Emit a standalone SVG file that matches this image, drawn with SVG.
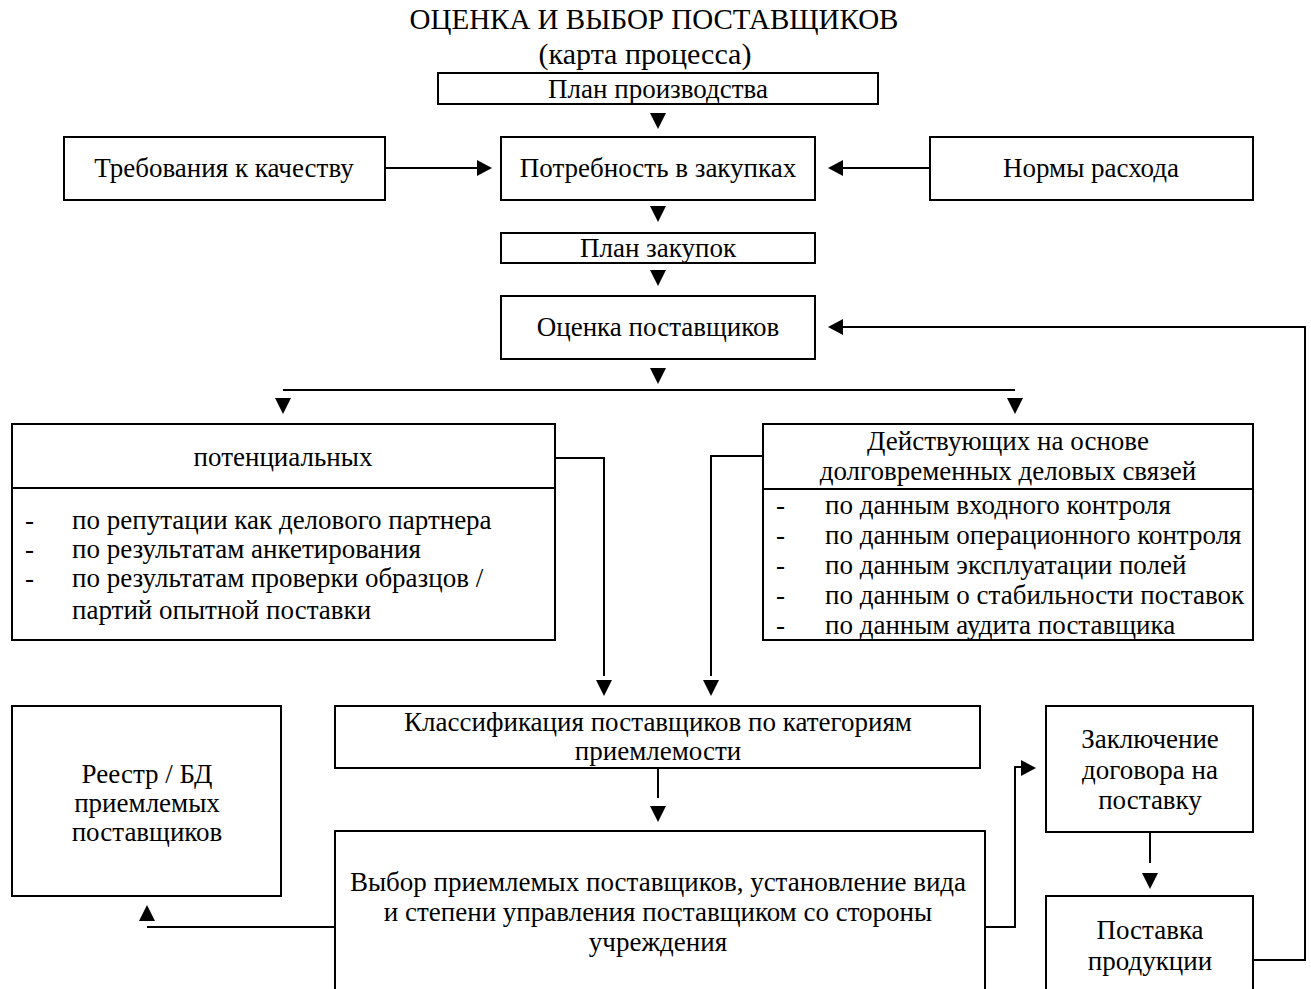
<svg xmlns="http://www.w3.org/2000/svg" xmlns:xlink="http://www.w3.org/1999/xlink" width="1311" height="989" viewBox="0 0 1311 989">
<style>
  .box { fill: #fff; stroke: #000; stroke-width: 2; }
  .ln { fill: none; stroke: #000; stroke-width: 2; }
  text { font-family: "Liberation Serif", "Times New Roman", serif; font-size: 27px; fill: #000; }
  .c { text-anchor: middle; }
  .title { font-size: 29px; }
  .sub { font-size: 30px; }
  .tri { fill: #000; }
</style>
<defs>
  <path id="td" class="tri" d="M-8,0 L8,0 L0,16 Z"/>
  <path id="tu" class="tri" d="M0,0 L-8,16 L8,16 Z"/>
  <path id="tl" class="tri" d="M0,0 L15,-8 L15,8 Z"/>
  <path id="tr" class="tri" d="M0,0 L-15,-8 L-15,8 Z"/>
</defs>
<rect width="1311" height="989" fill="#fff"/>

<g id="title">
  <text class="c title" x="654" y="29">ОЦЕНКА И ВЫБОР ПОСТАВЩИКОВ</text>
  <text class="c sub" x="645" y="64">(карта процесса)</text>
</g>

<g id="plan-proizv">
  <rect class="box" x="438" y="73" width="440" height="31"/>
  <text class="c" x="658" y="98">План производства</text>
</g>
<g id="trebovaniya">
  <rect class="box" x="64" y="137" width="321" height="63"/>
  <text class="c" x="224" y="177">Требования к качеству</text>
</g>
<g id="potrebnost">
  <rect class="box" x="501" y="137" width="314" height="63"/>
  <text class="c" x="658" y="177">Потребность в закупках</text>
</g>
<g id="normy">
  <rect class="box" x="930" y="137" width="323" height="63"/>
  <text class="c" x="1091" y="177">Нормы расхода</text>
</g>
<g id="plan-zakupok">
  <rect class="box" x="501" y="233" width="314" height="30"/>
  <text class="c" x="658" y="257">План закупок</text>
</g>
<g id="ocenka">
  <rect class="box" x="501" y="296" width="314" height="63"/>
  <text class="c" x="658" y="336">Оценка поставщиков</text>
</g>
<g id="potencialnyh">
  <rect class="box" x="12" y="424" width="543" height="216"/>
  <line class="ln" x1="12" y1="488" x2="555" y2="488"/>
  <text class="c" x="283" y="466">потенциальных</text>
  <text x="25" y="529">-</text><text x="72" y="529">по репутации как делового партнера</text>
  <text x="25" y="558">-</text><text x="72" y="558">по результатам анкетирования</text>
  <text x="25" y="587">-</text><text x="72" y="587">по результатам проверки образцов /</text>
  <text x="72" y="619">партий опытной поставки</text>
</g>
<g id="deystvuyushchih">
  <rect class="box" x="763" y="424" width="490" height="216"/>
  <line class="ln" x1="763" y1="489" x2="1253" y2="489"/>
  <text class="c" x="1008" y="450">Действующих на основе</text>
  <text class="c" x="1008" y="480">долговременных деловых связей</text>
  <text x="776" y="514">-</text><text x="825" y="514">по данным входного контроля</text>
  <text x="776" y="544">-</text><text x="825" y="544">по данным операционного контроля</text>
  <text x="776" y="574">-</text><text x="825" y="574">по данным эксплуатации полей</text>
  <text x="776" y="604">-</text><text x="825" y="604">по данным о стабильности поставок</text>
  <text x="776" y="634">-</text><text x="825" y="634">по данным аудита поставщика</text>
</g>
<g id="reestr">
  <rect class="box" x="12" y="706" width="269" height="190"/>
  <text class="c" x="147" y="783">Реестр / БД</text>
  <text class="c" x="147" y="812">приемлемых</text>
  <text class="c" x="147" y="841">поставщиков</text>
</g>
<g id="klassifikaciya">
  <rect class="box" x="335" y="706" width="645" height="62"/>
  <text class="c" x="658" y="731">Классификация поставщиков по категориям</text>
  <text class="c" x="658" y="760">приемлемости</text>
</g>
<g id="vybor">
  <rect class="box" x="335" y="831" width="650" height="170"/>
  <text class="c" x="658" y="891">Выбор приемлемых поставщиков, установление вида</text>
  <text class="c" x="658" y="921">и степени управления поставщиком со стороны</text>
  <text class="c" x="658" y="951">учреждения</text>
</g>
<g id="zaklyuchenie">
  <rect class="box" x="1046" y="706" width="207" height="126"/>
  <text class="c" x="1150" y="748">Заключение</text>
  <text class="c" x="1150" y="779">договора на</text>
  <text class="c" x="1150" y="809">поставку</text>
</g>
<g id="postavka">
  <rect class="box" x="1046" y="896" width="207" height="105"/>
  <text class="c" x="1150" y="939">Поставка</text>
  <text class="c" x="1150" y="970">продукции</text>
</g>

<g id="connectors">
  <line class="ln" x1="385" y1="168" x2="477" y2="168"/>
  <line class="ln" x1="843" y1="168" x2="930" y2="168"/>
  <polyline class="ln" points="555,458 604,458 604,676"/>
  <polyline class="ln" points="763,456 711,456 711,676"/>
  <line class="ln" x1="283" y1="390" x2="1015" y2="390"/>
  <line class="ln" x1="658" y1="768" x2="658" y2="798"/>
  <line class="ln" x1="335" y1="927" x2="147" y2="927"/>
  <polyline class="ln" points="985,927 1015,927 1015,767 1021,767"/>
  <line class="ln" x1="1150" y1="832" x2="1150" y2="863"/>
  <polyline class="ln" points="1253,960 1305,960 1305,327 843,327"/>

  <use xlink:href="#td" x="658" y="113"/>
  <use xlink:href="#td" x="658" y="206"/>
  <use xlink:href="#td" x="658" y="270"/>
  <use xlink:href="#td" x="658" y="368"/>
  <use xlink:href="#td" x="283" y="398"/>
  <use xlink:href="#td" x="1015" y="398"/>
  <use xlink:href="#td" x="604" y="680"/>
  <use xlink:href="#td" x="711" y="680"/>
  <use xlink:href="#td" x="658" y="806"/>
  <use xlink:href="#td" x="1150" y="873"/>
  <use xlink:href="#tr" x="492" y="168"/>
  <use xlink:href="#tl" x="828" y="168"/>
  <use xlink:href="#tl" x="828" y="327"/>
  <use xlink:href="#tr" x="1036" y="768"/>
  <use xlink:href="#tu" x="147" y="905"/>
</g>
</svg>
